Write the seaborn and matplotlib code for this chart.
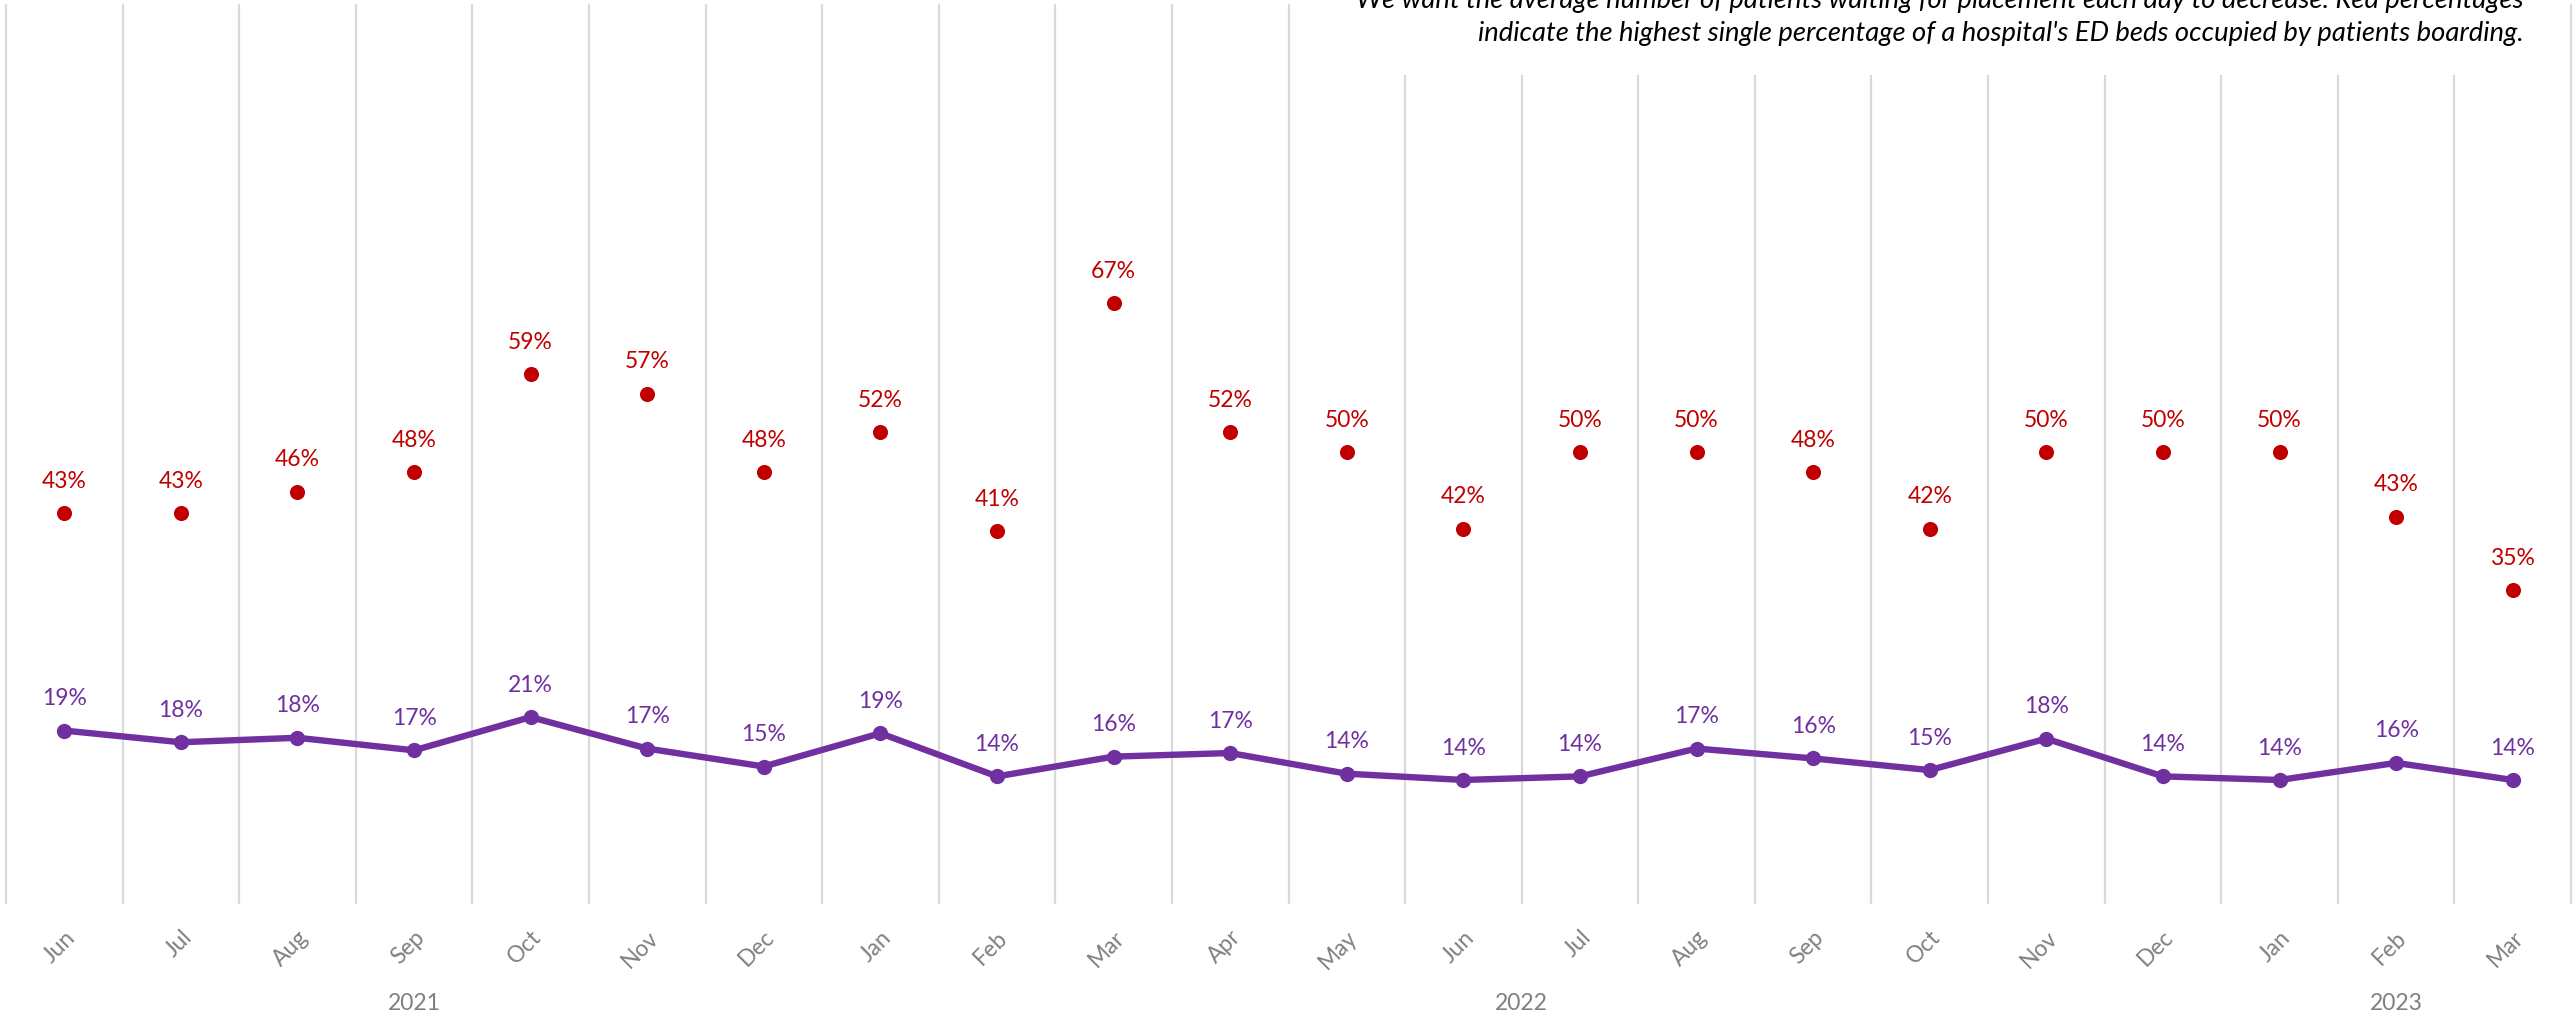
import numpy as np
import pandas as pd
import matplotlib
matplotlib.use("Agg")
import matplotlib.pyplot as plt
import seaborn as sns
from matplotlib.patches import Rectangle
from matplotlib.transforms import blended_transform_factory

# ---------------- data ----------------
months = ["Jun", "Jul", "Aug", "Sep", "Oct", "Nov", "Dec",
          "Jan", "Feb", "Mar", "Apr", "May", "Jun", "Jul", "Aug", "Sep", "Oct", "Nov", "Dec",
          "Jan", "Feb", "Mar"]
years = ["2021", "2022", "2023"]
year_first_idx = [0, 7, 19]
year_last_idx = [6, 18, 21]
avg_pct = [19.2, 17.9, 18.4, 17.0, 20.7, 17.2, 15.2,
           18.9, 14.1, 16.3, 16.7, 14.4, 13.7, 14.1, 17.2, 16.1, 14.8, 18.3, 14.1,
           13.7, 15.6, 13.7]
max_pct = [43.4, 43.4, 45.8, 48.0, 58.9, 56.7, 48.0,
           52.4, 41.4, 66.8, 52.4, 50.2, 41.7, 50.2, 50.2, 48.0, 41.7, 50.2, 50.2,
           50.2, 43.0, 34.8]
note_line1 = ("We want the average number of patients waiting for placement each day "
              "to decrease. Red percentages")
note_line2 = ("indicate the highest single percentage of a hospital's ED beds "
              "occupied by patients boarding.")

# ---------------- style ----------------
sns.set_style("white")
plt.rcParams["font.family"] = ["Lato", "DejaVu Sans"]

W, H = 2575, 1018
fig = plt.figure(figsize=(W / 100, H / 100), dpi=100)
ax = fig.add_axes([6 / W, 1 - 903 / H, 2565 / W, 898 / H])

df = pd.DataFrame({"x": np.arange(len(months)),
                   "avg": np.array(avg_pct) / 100,
                   "max": np.array(max_pct) / 100})

for i in range(len(months) + 1):
    ax.axvline(i - 0.5, color="#d9d9d9", lw=1.6, zorder=0, clip_on=False)

purple = "#7030A0"
red = "#C00000"
sns.lineplot(data=df, x="x", y="avg", ax=ax, color=purple, lw=4.6,
             marker="o", markersize=11, markeredgewidth=0, zorder=3)
sns.scatterplot(data=df, x="x", y="max", ax=ax, color=red, s=118,
                linewidth=0, zorder=3)

for xi, v in zip(df["x"], df["avg"]):
    ax.annotate(f"{v * 100:.0f}%", (xi, v), xytext=(0, 23), textcoords="offset points",
                ha="center", va="center", color=purple, fontsize=16.5)
for xi, v in zip(df["x"], df["max"]):
    ax.annotate(f"{v * 100:.0f}%", (xi, v), xytext=(0, 23), textcoords="offset points",
                ha="center", va="center", color=red, fontsize=16.5)

ax.set_xlim(-0.5, len(months) - 0.5)
ax.set_ylim(0, 1)
ax.set_yticks([])
ax.set_xticks(range(len(months)))
ax.set_xticklabels(months, rotation=45, ha="right", rotation_mode="anchor",
                   color="#808080", fontsize=16.5)
ax.tick_params(axis="x", length=0, pad=17)
ax.set_xlabel("")
ax.set_ylabel("")
for s in ax.spines.values():
    s.set_visible(False)

trans = blended_transform_factory(ax.transData, ax.transAxes)
for y, a, b in zip(years, year_first_idx, year_last_idx):
    ax.text((a + b) / 2, -0.112, y, transform=trans, ha="center", va="center",
            color="#808080", fontsize=16.5)

# note box at top right
fig.add_artist(Rectangle((1340 / W, 1 - 75 / H), (2545 - 1340) / W, 75 / H,
                         transform=fig.transFigure, facecolor="white",
                         edgecolor="none", zorder=5))
fig.text(2524 / W, 1 - 8 / H, note_line1, ha="right", va="baseline",
         fontsize=19.7, style="italic", color="black", zorder=6)
fig.text(2524 / W, 1 - 41 / H, note_line2, ha="right", va="baseline",
         fontsize=19.7, style="italic", color="black", zorder=6)

fig.savefig("out.png", dpi=100, facecolor="white")
